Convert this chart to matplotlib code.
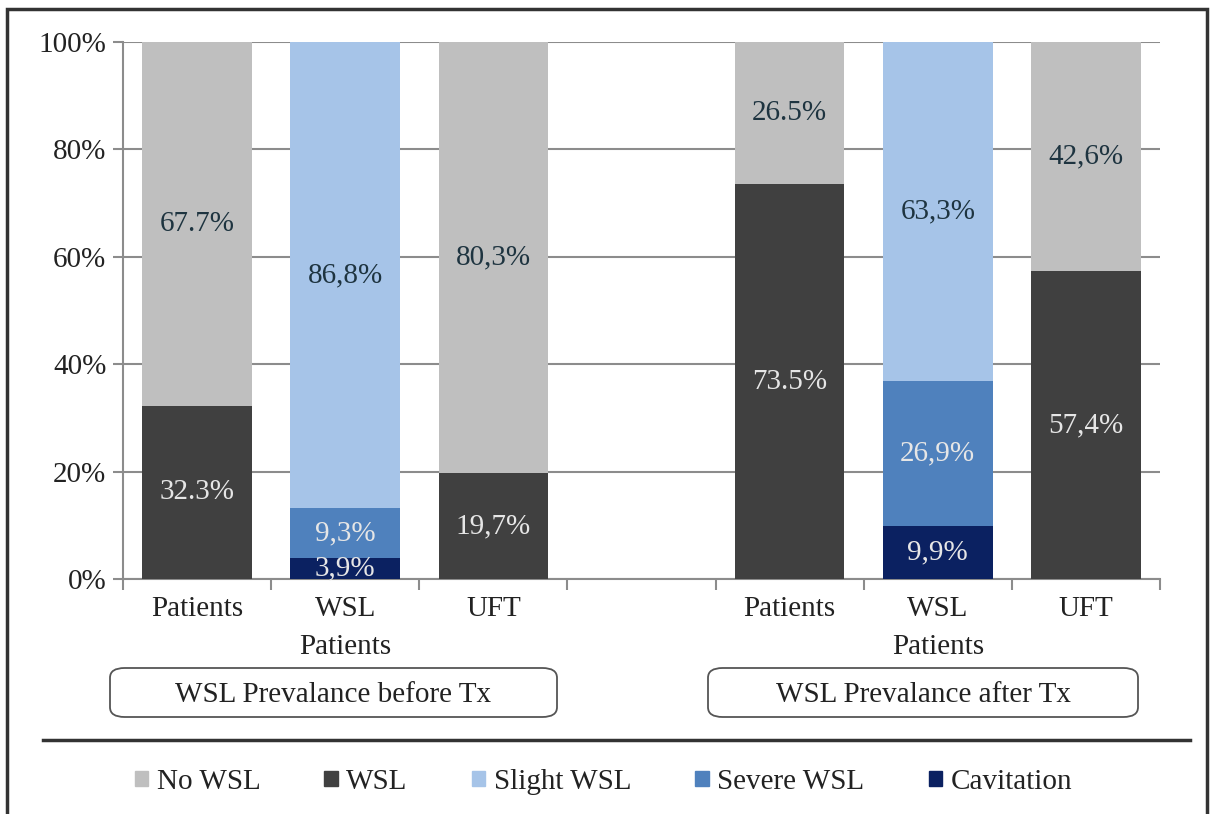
import matplotlib.pyplot as plt
import numpy as np
from matplotlib.patches import FancyBboxPatch, Rectangle
from matplotlib.lines import Line2D

# categories (slot 3 is an empty gap between the two groups)
categories = ["Patients", "WSL\nPatients", "UFT", "", "Patients", "WSL\nPatients", "UFT"]
groups = ["WSL Prevalance before Tx", "WSL Prevalance after Tx"]
series = ["No WSL", "WSL", "Slight WSL", "Severe WSL", "Cavitation"]

# values in percent, per slot (0 where the series is absent)
cavitation = [0, 3.9, 0, 0, 0, 9.9, 0]
severe_wsl = [0, 9.3, 0, 0, 0, 26.9, 0]
slight_wsl = [0, 86.8, 0, 0, 0, 63.3, 0]
wsl = [32.3, 0, 19.7, 0, 73.5, 0, 57.4]
no_wsl = [67.7, 0, 80.3, 0, 26.5, 0, 42.6]

# label text as printed in the figure
lbl_cavitation = ["", "3,9%", "", "", "", "9,9%", ""]
lbl_severe = ["", "9,3%", "", "", "", "26,9%", ""]
lbl_slight = ["", "86,8%", "", "", "", "63,3%", ""]
lbl_wsl = ["32.3%", "", "19,7%", "", "73.5%", "", "57,4%"]
lbl_no_wsl = ["67.7%", "", "80,3%", "", "26.5%", "", "42,6%"]

colors = {"No WSL": "#bfbfbf", "WSL": "#404040", "Slight WSL": "#a6c4e8",
          "Severe WSL": "#4f81bd", "Cavitation": "#0b2161"}
dark_txt = "#1e3440"
light_txt = "#e6e6e6"

plt.rcParams["font.family"] = ["Liberation Serif", "DejaVu Serif"]
FS = 21

fig = plt.figure(figsize=(12.14, 8.14), dpi=100)
W, H = 1214, 814
ax = fig.add_axes([123 / W, 1 - 579 / H, (1160 - 123) / W, (579 - 42) / H])

x = np.arange(len(categories))
bw = 0.74
stack = [
    (cavitation, "Cavitation", lbl_cavitation, light_txt),
    (severe_wsl, "Severe WSL", lbl_severe, light_txt),
    (slight_wsl, "Slight WSL", lbl_slight, dark_txt),
    (wsl, "WSL", lbl_wsl, light_txt),
    (no_wsl, "No WSL", lbl_no_wsl, dark_txt),
]
bottom = np.zeros(len(categories))
for vals, name, lbls, tc in stack:
    vals = np.array(vals, dtype=float)
    ax.bar(x, vals, bw, bottom=bottom, color=colors[name], zorder=3)
    for i in range(len(x)):
        if vals[i] > 0:
            ax.text(x[i], bottom[i] + vals[i] / 2, lbls[i], ha="center", va="center",
                    fontsize=FS, color=tc, zorder=4)
    bottom += vals

ax.set_xlim(-0.5, len(categories) - 0.5)
ax.set_ylim(0, 100)
ax.set_yticks(np.arange(0, 101, 20))
ax.set_yticklabels(["%d%%" % v for v in range(0, 101, 20)], fontsize=FS, color="#222222")
ax.yaxis.grid(True, color="#8c8c8c", lw=1.5, zorder=0)

ax.set_xticks(np.arange(-0.5, len(categories), 1.0))
ax.set_xticklabels([])
ax.set_xticks([i for i, c in enumerate(categories) if c], minor=True)
ax.set_xticklabels([c for c in categories if c], minor=True, fontsize=FS,
                   linespacing=1.6, color="#222222")
ax.tick_params(axis="x", which="major", length=8, color="#8c8c8c", width=1.5)
ax.tick_params(axis="x", which="minor", length=0, pad=12)
ax.tick_params(axis="y", length=7, color="#8c8c8c", width=1.5, pad=5)

for s in ["top", "right"]:
    ax.spines[s].set_visible(False)
for s in ["left", "bottom"]:
    ax.spines[s].set_color("#8c8c8c")
    ax.spines[s].set_linewidth(1.5)

# group boxes under the axis
for (x0, x1), g in zip([(110, 557), (708, 1138)], groups):
    y0, y1 = 668, 717
    box = FancyBboxPatch((x0 / W, 1 - y1 / H), (x1 - x0) / W, (y1 - y0) / H,
                         boxstyle="round,pad=0,rounding_size=0.012",
                         transform=fig.transFigure, fc="white", ec="#555555", lw=1.3)
    fig.add_artist(box)
    fig.text((x0 + x1) / 2 / W, 1 - (y0 + y1 + 4) / 2 / H, g, ha="center", va="center",
             fontsize=FS, color="#222222")

# separator and outer frame
fig.add_artist(Line2D([43 / W, 1190 / W], [1 - 740 / H] * 2, color="#333333", lw=2.5))
fig.add_artist(Rectangle((7 / W, -0.05), 1200 / W, 1.05 - 9 / H, fill=False,
                         ec="#333333", lw=2.5, transform=fig.transFigure))

handles = [Rectangle((0, 0), 1, 1, color=colors[s]) for s in series]
leg = fig.legend(handles, series, loc="center", bbox_to_anchor=(0.497, 1 - 782 / H), ncol=5,
                 frameon=False, fontsize=FS, handlelength=0.45, handleheight=0.45,
                 handletextpad=0.3, columnspacing=2.2)
for t in leg.get_texts():
    t.set_color("#222222")

fig.savefig("out.png", dpi=100)
